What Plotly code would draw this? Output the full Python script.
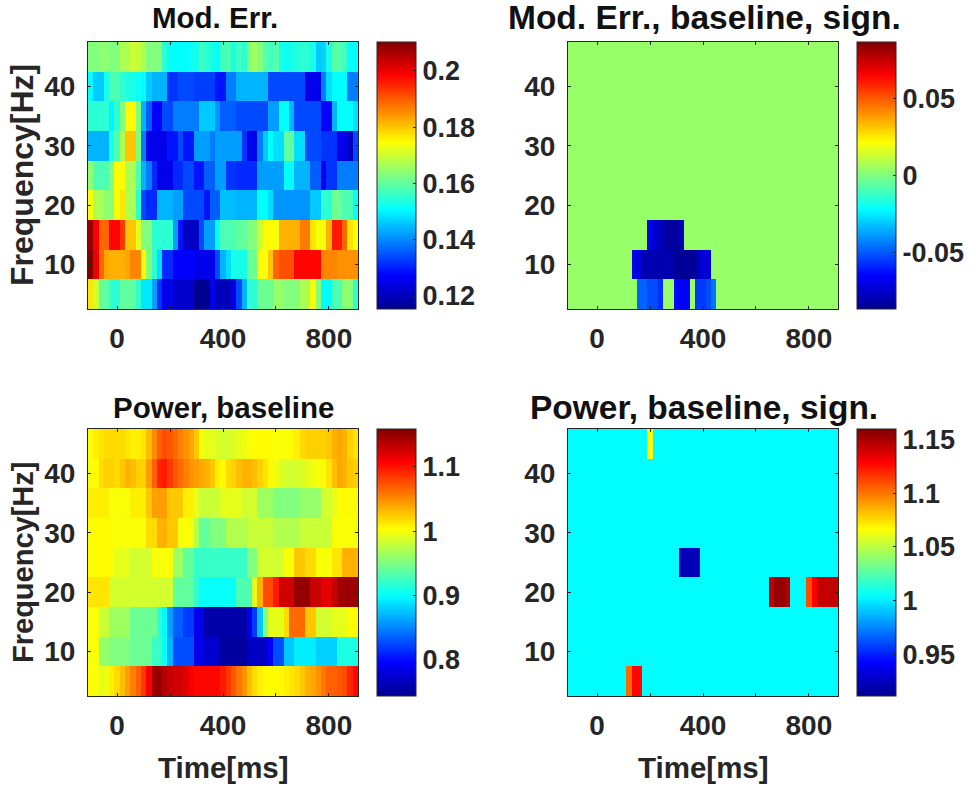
import plotly.graph_objects as go

FONT = "Liberation Sans"
INK = "#262626"
W, H = 976, 790

# MATLAB jet
JET = [
    [0.0, "#00008f"], [0.125, "#0000ff"], [0.375, "#00ffff"],
    [0.625, "#ffff00"], [0.875, "#ff0000"], [1.0, "#800000"],
]

time_ms = [-100, -80, -60, -40, -20, 0, 20, 40, 60, 80, 100, 120, 140, 160, 180, 200, 220,
           240, 260, 280, 300, 320, 340, 360, 380, 400, 420, 440, 460, 480, 500, 520, 540,
           560, 580, 600, 620, 640, 660, 680, 700, 720, 740, 760, 780, 800, 820, 840, 860,
           880, 900]
freq_hz = [5, 10, 15, 20, 25, 30, 35, 40, 45]

# Mod. Err., one list per frequency
err_45 = [.163,.163,.164,.164,.163,.163,.167,.167,.170,.169,.167,.163,.163,.163,.155,.151,.151,.151,.151,.152,.153,.157,.155,.153,.151,.157,.158,.153,.157,.155,.163,.166,.163,.159,.157,.159,.153,.152,.153,.154,.155,.155,.153,.146,.147,.153,.159,.159,.157,.151,.151]
err_40 = [.151,.146,.146,.153,.158,.158,.155,.154,.153,.152,.151,.146,.144,.144,.144,.132,.132,.134,.134,.134,.133,.133,.133,.133,.129,.129,.139,.139,.144,.144,.144,.144,.144,.144,.134,.134,.134,.134,.134,.134,.134,.125,.125,.125,.139,.148,.151,.151,.151,.139,.139]
err_35 = [.155,.155,.155,.155,.150,.155,.163,.175,.175,.163,.144,.136,.127,.127,.134,.134,.139,.139,.139,.139,.139,.146,.146,.146,.141,.136,.136,.136,.134,.134,.134,.134,.134,.134,.142,.142,.151,.151,.144,.134,.134,.134,.134,.134,.127,.127,.144,.151,.151,.151,.148]
err_30 = [.144,.144,.144,.144,.153,.158,.167,.180,.180,.163,.139,.125,.125,.125,.125,.129,.129,.134,.129,.129,.142,.142,.142,.139,.142,.142,.142,.142,.142,.132,.125,.125,.139,.146,.151,.148,.148,.160,.160,.148,.148,.134,.134,.134,.132,.132,.132,.125,.125,.121,.134]
err_25 = [.164,.158,.158,.158,.163,.175,.175,.167,.167,.158,.144,.139,.131,.125,.125,.125,.131,.131,.134,.134,.129,.129,.136,.136,.142,.142,.132,.132,.131,.131,.131,.131,.142,.142,.142,.142,.142,.151,.151,.144,.144,.144,.136,.136,.126,.132,.132,.139,.139,.139,.139]
err_20 = [.174,.167,.167,.164,.164,.174,.177,.167,.167,.155,.134,.131,.131,.144,.144,.144,.142,.142,.134,.134,.134,.134,.129,.136,.136,.145,.145,.145,.144,.144,.144,.144,.151,.151,.148,.141,.141,.141,.141,.141,.141,.141,.146,.146,.155,.155,.161,.161,.158,.158,.151]
err_15 = [.208,.199,.189,.189,.198,.198,.193,.180,.180,.172,.163,.163,.155,.155,.155,.155,.142,.129,.121,.121,.121,.134,.142,.142,.151,.158,.158,.158,.160,.160,.163,.163,.170,.175,.175,.174,.182,.182,.182,.182,.187,.187,.177,.174,.174,.182,.196,.196,.189,.177,.174]
err_10 = [.210,.200,.189,.183,.182,.182,.182,.183,.186,.186,.175,.163,.155,.148,.131,.131,.127,.127,.127,.127,.125,.125,.125,.125,.134,.144,.148,.153,.153,.153,.161,.161,.174,.174,.180,.189,.191,.191,.191,.198,.198,.198,.198,.198,.186,.186,.186,.185,.185,.185,.185]
err_05 = [.177,.170,.160,.160,.155,.155,.160,.160,.160,.155,.149,.149,.142,.132,.125,.125,.122,.122,.122,.122,.115,.115,.115,.125,.120,.120,.120,.124,.134,.144,.155,.155,.161,.161,.161,.165,.165,.163,.163,.163,.167,.167,.174,.163,.151,.151,.158,.158,.164,.164,.155]

# Mod. Err., baseline, sign.
err_sign_flat = [.004,.004,.004,.004,.004,.004,.004,.004,.004,.004,.004,.004,.004,.004,.004,.004,.004,.004,.004,.004,.004,.004,.004,.004,.004,.004,.004,.004,.004,.004,.004,.004,.004,.004,.004,.004,.004,.004,.004,.004,.004,.004,.004,.004,.004,.004,.004,.004,.004,.004,.004]
err_sign_15 = [.004,.004,.004,.004,.004,.004,.004,.004,.004,.004,.004,.004,.004,.004,.004,-.069,-.076,-.076,-.083,-.083,-.083,-.078,.004,.004,.004,.004,.004,.004,.004,.004,.004,.004,.004,.004,.004,.004,.004,.004,.004,.004,.004,.004,.004,.004,.004,.004,.004,.004,.004,.004,.004]
err_sign_10 = [.004,.004,.004,.004,.004,.004,.004,.004,.004,.004,.004,.004,-.069,-.071,-.080,-.080,-.080,-.080,-.080,-.080,-.085,-.085,-.085,-.085,-.080,-.073,-.073,.004,.004,.004,.004,.004,.004,.004,.004,.004,.004,.004,.004,.004,.004,.004,.004,.004,.004,.004,.004,.004,.004,.004,.004]
err_sign_05 = [.004,.004,.004,.004,.004,.004,.004,.004,.004,.004,.004,.004,.004,-.048,-.048,-.052,-.052,-.057,.004,.004,-.064,-.066,-.066,.004,-.055,-.055,-.052,-.045,.004,.004,.004,.004,.004,.004,.004,.004,.004,.004,.004,.004,.004,.004,.004,.004,.004,.004,.004,.004,.004,.004,.004]

# Power, baseline
pow_45 = [1.005,1.010,1.014,1.018,1.018,1.018,1.018,1.014,1.010,1.010,1.014,1.030,1.051,1.068,1.076,1.072,1.064,1.055,1.047,1.039,1.026,1.005,.993,.993,.989,.985,.985,.989,.993,.997,1.001,1.005,1.005,1.005,1.005,1.001,1.001,1.001,1.005,1.010,1.018,1.022,1.022,1.022,1.022,1.026,1.035,1.039,1.035,1.022,1.014]
pow_40 = [1.001,1.005,1.018,1.022,1.022,1.018,1.026,1.035,1.030,1.022,1.022,1.043,1.068,1.093,1.097,1.084,1.072,1.064,1.055,1.047,1.043,1.039,1.035,1.026,1.010,1.005,1.018,1.022,1.030,1.035,1.035,1.030,1.022,1.014,1.005,.997,.989,.985,.985,.985,.989,.993,.997,1.001,1.005,1.014,1.030,1.039,1.035,1.026,1.022]
pow_35 = [1.010,1.010,1.010,1.010,1.001,1.001,1.001,1.001,1.010,1.010,1.010,1.026,1.043,1.043,1.043,1.026,1.026,1.026,1.010,1.010,.993,.981,.981,.981,.981,.993,.993,.993,.993,.985,.985,.985,.964,.964,.964,.952,.952,.952,.952,.952,.960,.960,.960,.960,.985,.985,.993,1.005,1.005,1.005,1.005]
pow_30 = [1.005,1.005,1.005,1.005,1.005,1.001,1.001,1.001,1.001,1.001,1.001,1.018,1.018,1.035,1.035,1.026,1.026,1.001,1.001,1.001,.972,.939,.939,.952,.952,.952,.972,.972,.972,.972,.981,.981,.981,.981,.981,.972,.972,.972,.972,.972,.981,.981,.981,.981,.981,.981,1.001,1.001,1.001,1.001,1.001]
pow_25 = [1.005,1.005,1.005,1.005,1.005,.993,.993,.993,.985,.985,.985,.985,1.001,1.001,1.001,1.001,.964,.964,.939,.939,.922,.922,.922,.922,.922,.922,.922,.922,.922,.922,.952,.952,.985,.985,.985,.985,.985,1.001,1.001,1.026,1.026,1.018,1.018,1.001,1.001,1.001,1.014,1.014,1.035,1.035,1.035]
pow_20 = [1.014,1.014,1.014,1.014,.985,.985,.985,.985,.985,.985,.985,.985,.985,.985,.985,.985,.939,.939,.939,.939,.918,.902,.902,.902,.902,.902,.902,.902,.931,.931,.931,.993,1.035,1.076,1.076,1.097,1.126,1.126,1.126,1.151,1.151,1.151,1.130,1.130,1.118,1.118,1.130,1.147,1.147,1.147,1.147]
pow_15 = [1.001,1.001,.981,.981,.964,.964,.964,.964,.943,.943,.943,.943,.943,.918,.898,.860,.835,.835,.819,.819,.786,.786,.756,.756,.756,.756,.756,.756,.756,.756,.786,.819,.877,.952,.993,.993,.993,1.018,1.064,1.064,1.064,1.026,1.026,.985,.985,.985,.993,.993,.993,1.005,1.005]
pow_10 = [1.001,1.001,.960,.960,.952,.952,.952,.952,.943,.943,.943,.943,.922,.922,.902,.869,.827,.827,.827,.827,.786,.786,.773,.773,.773,.752,.752,.752,.752,.752,.769,.769,.769,.769,.794,.827,.827,.877,.877,.893,.893,.893,.893,.881,.881,.881,.881,.910,.910,.910,.910]
pow_05 = [1.005,1.001,.993,.997,1.010,1.018,1.030,1.043,1.055,1.068,1.084,1.109,1.147,1.151,1.138,1.130,1.126,1.126,1.118,1.109,1.105,1.105,1.105,1.105,1.105,1.097,1.084,1.072,1.059,1.047,1.030,1.018,1.010,1.005,1.005,1.005,1.005,1.010,1.014,1.018,1.026,1.035,1.039,1.047,1.059,1.068,1.068,1.072,1.076,1.093,1.105]

# Power, baseline, sign.
pow_sign_flat = [1.004,1.004,1.004,1.004,1.004,1.004,1.004,1.004,1.004,1.004,1.004,1.004,1.004,1.004,1.004,1.004,1.004,1.004,1.004,1.004,1.004,1.004,1.004,1.004,1.004,1.004,1.004,1.004,1.004,1.004,1.004,1.004,1.004,1.004,1.004,1.004,1.004,1.004,1.004,1.004,1.004,1.004,1.004,1.004,1.004,1.004,1.004,1.004,1.004,1.004,1.004]
pow_sign_45 = [1.004,1.004,1.004,1.004,1.004,1.004,1.004,1.004,1.004,1.004,1.004,1.004,1.004,1.004,1.004,1.068,1.004,1.004,1.004,1.004,1.004,1.004,1.004,1.004,1.004,1.004,1.004,1.004,1.004,1.004,1.004,1.004,1.004,1.004,1.004,1.004,1.004,1.004,1.004,1.004,1.004,1.004,1.004,1.004,1.004,1.004,1.004,1.004,1.004,1.004,1.004]
pow_sign_25 = [1.004,1.004,1.004,1.004,1.004,1.004,1.004,1.004,1.004,1.004,1.004,1.004,1.004,1.004,1.004,1.004,1.004,1.004,1.004,1.004,1.004,.923,.921,.923,.923,1.004,1.004,1.004,1.004,1.004,1.004,1.004,1.004,1.004,1.004,1.004,1.004,1.004,1.004,1.004,1.004,1.004,1.004,1.004,1.004,1.004,1.004,1.004,1.004,1.004,1.004]
pow_sign_20 = [1.004,1.004,1.004,1.004,1.004,1.004,1.004,1.004,1.004,1.004,1.004,1.004,1.004,1.004,1.004,1.004,1.004,1.004,1.004,1.004,1.004,1.004,1.004,1.004,1.004,1.004,1.004,1.004,1.004,1.004,1.004,1.004,1.004,1.004,1.004,1.004,1.004,1.004,1.143,1.155,1.155,1.148,1.004,1.004,1.004,1.110,1.130,1.143,1.143,1.143,1.143]
pow_sign_05 = [1.004,1.004,1.004,1.004,1.004,1.004,1.004,1.004,1.004,1.004,1.004,1.103,1.128,1.128,1.004,1.004,1.004,1.004,1.004,1.004,1.004,1.004,1.004,1.004,1.004,1.004,1.004,1.004,1.004,1.004,1.004,1.004,1.004,1.004,1.004,1.004,1.004,1.004,1.004,1.004,1.004,1.004,1.004,1.004,1.004,1.004,1.004,1.004,1.004,1.004,1.004]

mod_err = [err_05, err_10, err_15, err_20, err_25, err_30, err_35, err_40, err_45]
mod_err_sign = [err_sign_05, err_sign_10, err_sign_15, err_sign_flat, err_sign_flat,
                err_sign_flat, err_sign_flat, err_sign_flat, err_sign_flat]
power = [pow_05, pow_10, pow_15, pow_20, pow_25, pow_30, pow_35, pow_40, pow_45]
power_sign = [pow_sign_05, pow_sign_flat, pow_sign_flat, pow_sign_20, pow_sign_25,
              pow_sign_flat, pow_sign_flat, pow_sign_flat, pow_sign_45]

x_ticks = [0, 200, 400, 600, 800]
x_tick_text = ["0", "", "400", "", "800"]
y_ticks = [10, 20, 30, 40]

panels = [
    dict(z=mod_err, zmin=0.1154, zmax=0.2102, title="Mod. Err.", title_size=29.5, title_x=215, title_y=17,
         left=88, top=42, ticks=[0.12, 0.14, 0.16, 0.18, 0.2], tick_text=["0.12", "0.14", "0.16", "0.18", "0.2"]),
    dict(z=mod_err_sign, zmin=-0.0865, zmax=0.0865, title="Mod. Err., baseline, sign.", title_size=33.5, title_x=704, title_y=17,
         left=568, top=42, ticks=[-0.05, 0, 0.05], tick_text=["-0.05", "0", "0.05"]),
    dict(z=power, zmin=0.744, zmax=1.159, title="Power, baseline", title_size=29.5, title_x=223.5, title_y=407,
         left=88, top=429, ticks=[0.8, 0.9, 1, 1.1], tick_text=["0.8", "0.9", "1", "1.1"]),
    dict(z=power_sign, zmin=0.911, zmax=1.16, title="Power, baseline, sign.", title_size=33.5, title_x=704, title_y=407,
         left=568, top=429, ticks=[0.95, 1, 1.05, 1.1, 1.15], tick_text=["0.95", "1", "1.05", "1.1", "1.15"]),
]

AX_W, AX_H = 270, 267
fig = go.Figure()

for i, p in enumerate(panels, start=1):
    xa, ya = f"x{i}", f"y{i}"
    fig.add_trace(go.Heatmap(
        z=p["z"], x=time_ms, y=freq_hz, xaxis=xa, yaxis=ya,
        colorscale=JET, zmin=p["zmin"], zmax=p["zmax"], zsmooth=False,
        colorbar=dict(
            x=(p["left"] + AX_W + 19) / W, xanchor="left", xpad=0, ypad=0,
            y=1 - (p["top"] + AX_H) / H, yanchor="bottom", len=AX_H / H, lenmode="fraction",
            thickness=39, thicknessmode="pixels", outlinecolor=INK, outlinewidth=1,
            tickmode="array", tickvals=p["ticks"], ticktext=p["tick_text"],
            tickprefix="\u200a", ticks="inside", ticklen=3, tickcolor=INK,
            tickfont=dict(family=FONT, size=27, color=INK, weight="bold"),
        ),
    ))
    fig.update_layout({
        f"xaxis{i}": dict(
            domain=[p["left"] / W, (p["left"] + AX_W) / W], anchor=ya, range=[-110, 910],
            tickmode="array", tickvals=x_ticks, ticktext=x_tick_text, ticklabelstandoff=4,
            ticks="inside", ticklen=3, tickcolor=INK, showgrid=False, zeroline=False,
            showline=True, mirror="ticks", linecolor=INK, linewidth=1,
            tickfont=dict(family=FONT, size=28, color=INK, weight="bold"),
        ),
        f"yaxis{i}": dict(
            domain=[1 - (p["top"] + AX_H) / H, 1 - p["top"] / H], anchor=xa, range=[2.5, 47.5],
            tickmode="array", tickvals=y_ticks, ticklabelstandoff=6,
            ticks="inside", ticklen=3, tickcolor=INK, showgrid=False, zeroline=False,
            showline=True, mirror="ticks", linecolor=INK, linewidth=1,
            tickfont=dict(family=FONT, size=28, color=INK, weight="bold"),
        ),
    })
    fig.add_annotation(text=p["title"], x=p["title_x"] / W, y=1 - p["title_y"] / H, xref="paper", yref="paper",
                       xanchor="center", yanchor="middle", showarrow=False,
                       font=dict(family=FONT, size=p["title_size"], color="#111111", weight="bold"))

for lx, ly, size in [(22, 175, 32), (23, 563, 29)]:
    fig.add_annotation(text="Frequency[Hz]", x=lx / W, y=1 - ly / H, xref="paper", yref="paper", textangle=-90,
                       xanchor="center", yanchor="middle", showarrow=False,
                       font=dict(family=FONT, size=size, color=INK, weight="bold"))
for lx, ly in [(223, 767), (703, 767)]:
    fig.add_annotation(text="Time[ms]", x=lx / W, y=1 - ly / H, xref="paper", yref="paper",
                       xanchor="center", yanchor="middle", showarrow=False,
                       font=dict(family=FONT, size=29.5, color=INK, weight="bold"))

fig.update_layout(width=W, height=H, margin=dict(l=0, r=0, t=0, b=0), paper_bgcolor="white",
                  plot_bgcolor="white", showlegend=False)

fig.write_html("out.html", config={"displayModeBar": False},
               post_script="document.body.style.margin='0';")
